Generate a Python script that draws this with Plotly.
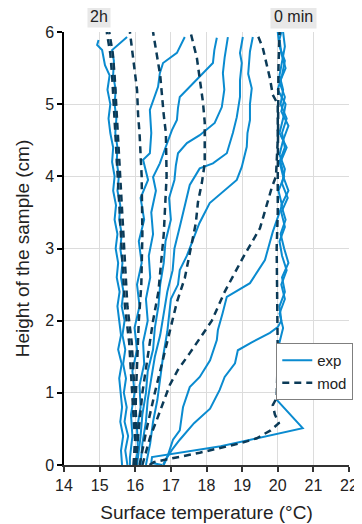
import plotly.graph_objects as go

# ---------------- experimental profiles (T in degC vs height h in cm) -------------
e000_h = [0, 0.03, 0.11, 0.26, 0.51, 0.72, 0.9, 1.1, 1.3, 1.5, 1.7, 1.9, 2.1, 2.3, 2.5, 2.7, 2.9, 3.1, 3.3,
          3.5, 3.7, 3.9, 4.1, 4.3, 4.5, 4.7, 4.9, 5.1, 5.3, 5.5, 5.7, 5.9, 6.0]
e000_t = [16.75, 16.45, 16.47, 18.4, 20.7, 20.3, 19.98, 20.02, 20.1, 19.98, 20.05, 20.15, 20.05, 20.2, 20.1,
          20.25, 20.12, 20.05, 20.2, 20.1, 20.28, 20.12, 20.2, 20.05, 20.15, 20.3, 20.1, 20.2, 20.05, 20.22,
          20.1, 20.05, 20.1]

e010_h = [0, 0.1, 0.21, 0.35, 0.58, 0.78, 1.04, 1.22, 1.41, 1.59, 1.7, 1.83, 1.91, 2.0, 2.2, 2.4, 2.6, 2.8,
          3.0, 3.2, 3.4, 3.6, 3.8, 4.0, 4.2, 4.4, 4.6, 4.8, 5.0, 5.2, 5.4, 5.6, 5.8, 6.0]
e010_t = [16.8, 16.89, 17.03, 17.25, 17.65, 18.1, 18.37, 18.51, 18.8, 18.88, 19.27, 19.78, 20.0, 20.1, 20.05,
          20.2, 20.12, 20.3, 20.18, 20.08, 20.22, 20.1, 20.3, 20.15, 20.05, 20.2, 20.12, 20.25, 20.08, 20.15,
          20.05, 20.12, 20.2, 20.15]

e020_h = [0, 0.14, 0.35, 0.48, 0.8, 1.08, 1.22, 1.45, 1.73, 1.87, 2.1, 2.33, 2.52, 2.84, 3.23, 3.39, 3.6, 3.8,
          4.0, 4.2, 4.4, 4.6, 4.8, 5.0, 5.2, 5.4, 5.6, 5.8, 6.0]
e020_t = [16.78, 16.92, 17.06, 17.25, 17.34, 17.53, 17.81, 18.1, 18.29, 18.32, 18.45, 18.57, 19.22, 19.64,
          19.86, 19.97, 20.12, 20.02, 20.18, 20.08, 20.25, 20.05, 20.15, 20.22, 20.0, 20.12, 20.2, 20.05, 20.0]

e030_h = [0, 0.3, 0.6, 0.9, 1.2, 1.5, 1.85, 2.1, 2.3, 2.5, 2.7, 2.9, 3.1, 3.35, 3.63, 3.84, 3.95, 4.13, 4.41,
          4.6, 4.78, 5.0, 5.22, 5.42, 5.73, 5.93]
e030_t = [16.3, 16.42, 16.5, 16.62, 16.7, 16.78, 16.9, 16.95, 17.0, 17.2, 17.25, 17.45, 17.6, 17.8, 18.09,
          18.57, 18.85, 18.99, 19.13, 19.15, 19.22, 19.22, 19.27, 19.17, 19.22, 19.3]

e045_h = [0, 0.3, 0.6, 0.9, 1.2, 1.5, 1.8, 2.1, 2.4, 2.7, 3.0, 3.3, 3.6, 3.88, 4.11, 4.18, 4.32, 4.6, 4.82,
          5.1, 5.33, 5.57, 5.71, 5.93]
e045_t = [16.15, 16.2, 16.3, 16.35, 16.45, 16.55, 16.7, 16.8, 16.9, 17.05, 17.1, 17.25, 17.4, 17.53, 17.81,
          18.18, 18.57, 18.74, 18.85, 18.94, 18.94, 18.99, 18.94, 19.02]

e060_h = [0, 0.4, 0.7, 1.0, 1.3, 1.6, 1.9, 2.2, 2.5, 2.8, 3.1, 3.4, 3.7, 3.95, 4.15, 4.32, 4.46, 4.57, 4.74,
          4.96, 5.2, 5.43, 5.65, 5.93]
e060_t = [16.05, 16.15, 16.2, 16.3, 16.35, 16.5, 16.55, 16.65, 16.7, 16.8, 16.85, 17.0, 16.95, 17.1, 17.14,
          17.2, 17.45, 17.81, 18.23, 18.43, 18.5, 18.46, 18.51, 18.6]

e075_h = [0, 0.2, 0.5, 0.8, 1.1, 1.4, 1.7, 2.0, 2.3, 2.6, 2.9, 3.2, 3.5, 3.8, 3.99, 4.18, 4.4, 4.64, 4.78,
          4.95, 5.1, 5.29, 5.43, 5.57, 5.75, 5.92]
e075_t = [15.98, 16.08, 16.05, 16.15, 16.12, 16.25, 16.22, 16.35, 16.3, 16.42, 16.38, 16.5, 16.45, 16.58,
          16.5, 16.69, 16.85, 17.03, 17.17, 17.2, 17.25, 17.62, 17.9, 18.18, 18.22, 18.29]

e090_h = [0, 0.1, 0.4, 0.7, 1.0, 1.3, 1.6, 1.9, 2.2, 2.5, 2.8, 3.1, 3.4, 3.7, 3.95, 4.23, 4.32, 4.6, 4.92,
          5.24, 5.43, 5.57, 5.71, 5.93]
e090_t = [15.85, 15.85, 15.92, 15.88, 15.98, 15.92, 16.05, 15.98, 16.12, 16.05, 16.18, 16.1, 16.25, 16.15,
          16.36, 16.22, 16.41, 16.45, 16.41, 16.64, 16.69, 16.78, 17.17, 17.39]

e105_h = [0, 0.2, 0.4, 0.6, 0.8, 1.0, 1.2, 1.4, 1.6, 1.8, 2.0, 2.2, 2.4, 2.6, 2.8, 3.0, 3.2, 3.4, 3.6, 3.8,
          4.0, 4.2, 4.4, 4.6, 4.8, 5.0, 5.2, 5.4, 5.6, 5.75, 5.93]
e105_t = [15.78, 15.72, 15.8, 15.7, 15.76, 15.68, 15.74, 15.66, 15.72, 15.64, 15.7, 15.62, 15.67, 15.6,
          15.64, 15.58, 15.62, 15.55, 15.58, 15.5, 15.54, 15.48, 15.5, 15.44, 15.47, 15.42, 15.45, 15.38,
          15.4, 15.35, 15.77]

e120_h = [0, 0.2, 0.4, 0.6, 0.8, 1.0, 1.2, 1.4, 1.6, 1.8, 2.0, 2.2, 2.4, 2.6, 2.8, 3.0, 3.2, 3.4, 3.6, 3.8,
          4.0, 4.2, 4.4, 4.6, 4.8, 5.0, 5.2, 5.4, 5.54, 5.75, 5.82, 5.89]
e120_t = [15.63, 15.6, 15.66, 15.58, 15.63, 15.6, 15.55, 15.62, 15.52, 15.6, 15.55, 15.5, 15.56, 15.48,
          15.52, 15.45, 15.5, 15.42, 15.46, 15.38, 15.42, 15.35, 15.38, 15.3, 15.25, 15.3, 15.22, 15.28,
          15.15, 15.07, 14.93, 14.97]

# ---------------- model profiles ----------------
m000_h = [0, 0.04, 0.17, 0.3, 0.37, 0.48, 0.58, 0.7, 0.83, 0.93, 1.5, 2.0, 2.5, 3.0, 3.5, 4.0, 4.5, 5.0, 5.5, 6.0]
m000_t = [16.4, 16.52, 17.81, 18.94, 19.41, 19.8, 20.03, 19.92, 19.86, 19.97, 20.0, 20.0, 19.98, 19.97, 20.0,
          20.0, 20.0, 20.0, 20.02, 20.05]

m020_h = [0, 0.39, 0.62, 0.87, 1.11, 1.32, 1.55, 2.0, 2.4, 2.87, 3.28, 3.84, 4.0, 4.5, 5.0, 5.13, 5.36, 5.78, 6.0]
m020_t = [16.2, 16.42, 16.6, 16.8, 16.97, 17.2, 17.53, 18.15, 18.51, 19.02, 19.5, 19.83, 19.95, 20.0, 20.0,
          19.86, 19.78, 19.58, 19.4]

m040_h = [0, 0.5, 1.0, 1.5, 1.98, 2.26, 2.59, 2.81, 3.09, 3.35, 3.64, 3.91, 4.18, 4.54, 4.75, 5.03, 5.36, 5.64, 5.92, 6.0]
m040_t = [16.12, 16.32, 16.55, 16.8, 17.03, 17.17, 17.39, 17.48, 17.59, 17.7, 17.76, 17.87, 17.95, 17.95,
          17.95, 17.9, 17.81, 17.73, 17.59, 17.55]

m060_h = [0, 0.5, 1.0, 1.5, 2.0, 2.4, 2.9, 3.2, 4.0, 4.6, 4.85, 5.4, 5.7, 6.0]
m060_t = [16.0, 16.1, 16.2, 16.35, 16.5, 16.65, 16.75, 16.8, 16.88, 16.86, 16.8, 16.7, 16.6, 16.5]

m080_h = [0, 1.0, 2.0, 2.5, 3.2, 4.0, 4.6, 4.85, 5.2, 5.45, 5.7, 6.0]
m080_t = [15.98, 16.02, 16.1, 16.17, 16.2, 16.18, 16.12, 16.08, 16.05, 15.99, 15.92, 15.85]

m100_h = [0, 0.35, 0.6, 1.2, 1.7, 2.2, 3.2, 4.0, 4.6, 5.1, 5.4, 5.7, 6.0]
m100_t = [16.02, 16.07, 16.03, 15.96, 15.9, 15.78, 15.67, 15.57, 15.5, 15.45, 15.42, 15.37, 15.27]

m120_h = [0, 0.35, 0.6, 1.2, 1.7, 2.2, 3.2, 4.0, 4.6, 5.1, 5.4, 5.7, 6.0]
m120_t = [15.95, 16.0, 15.96, 15.89, 15.83, 15.71, 15.6, 15.5, 15.43, 15.38, 15.35, 15.3, 15.2]

exp_series = [(e000_h, e000_t), (e010_h, e010_t), (e020_h, e020_t), (e030_h, e030_t), (e045_h, e045_t),
              (e060_h, e060_t), (e075_h, e075_t), (e090_h, e090_t), (e105_h, e105_t), (e120_h, e120_t)]
mod_series = [(m000_h, m000_t), (m020_h, m020_t), (m040_h, m040_t), (m060_h, m060_t), (m080_h, m080_t),
              (m100_h, m100_t), (m120_h, m120_t)]

x_ticks = [14, 15, 16, 17, 18, 19, 20, 21, 22]
y_ticks = [0, 1, 2, 3, 4, 5, 6]
time_labels = [("2h", 14.97), ("0 min", 20.44)]

EXP_COLOR = "#0A8BD0"
MOD_COLOR = "#0B3A57"
FONT = "Liberation Sans, Arial, sans-serif"

fig = go.Figure()
for i, (h, t) in enumerate(exp_series):
    fig.add_trace(go.Scatter(x=t, y=h, mode="lines", name="exp", legendgroup="exp",
                             showlegend=(i == 0), line=dict(color=EXP_COLOR, width=2)))
for i, (h, t) in enumerate(mod_series):
    fig.add_trace(go.Scatter(x=t, y=h, mode="lines", name="mod", legendgroup="mod",
                             showlegend=(i == 0),
                             line=dict(color=MOD_COLOR, width=2.5, dash="7px,5px")))

for txt, xv in time_labels:
    fig.add_annotation(x=xv, y=1.035, text=txt, showarrow=False, xref="x", yref="paper",
                       yanchor="middle", bgcolor="#e8e8e8", borderpad=2 if txt == "2h" else 3,
                       font=dict(size=16, color="#222", family=FONT))

# the page adds an 8px body margin, so the figure is 8px smaller than the window
fig.update_layout(
    width=354, height=516,
    margin=dict(l=56, r=13, t=24, b=59, autoexpand=False),
    paper_bgcolor="white", plot_bgcolor="white",
    font=dict(family=FONT, size=16, color="#222"),
    legend=dict(x=1.015, y=0.282, xanchor="right", yanchor="top",
                bordercolor="#7f7f7f", borderwidth=1, bgcolor="white",
                font=dict(size=15), itemwidth=30, tracegroupgap=0),
    xaxis=dict(range=[14, 22], tickvals=x_ticks, ticks="outside", ticklen=5, tickwidth=1.5,
               tickcolor="#333", showline=True, linecolor="#333", linewidth=2,
               showgrid=True, gridcolor="#dcdcdc", gridwidth=1, zeroline=False, automargin=False,
               title=dict(text="Surface temperature (°C)", font=dict(size=19), standoff=12),
               tickfont=dict(size=16)),
    yaxis=dict(range=[0, 6], tickvals=y_ticks, ticks="outside", ticklen=5, tickwidth=1.5,
               tickcolor="#000", showline=True, linecolor="#000", linewidth=1.5,
               showgrid=True, gridcolor="#dcdcdc", gridwidth=1, zeroline=False, automargin=False,
               title=dict(text="Height of the sample (cm)", font=dict(size=19), standoff=10),
               tickfont=dict(size=16)),
)

fig.write_html("out.html")
